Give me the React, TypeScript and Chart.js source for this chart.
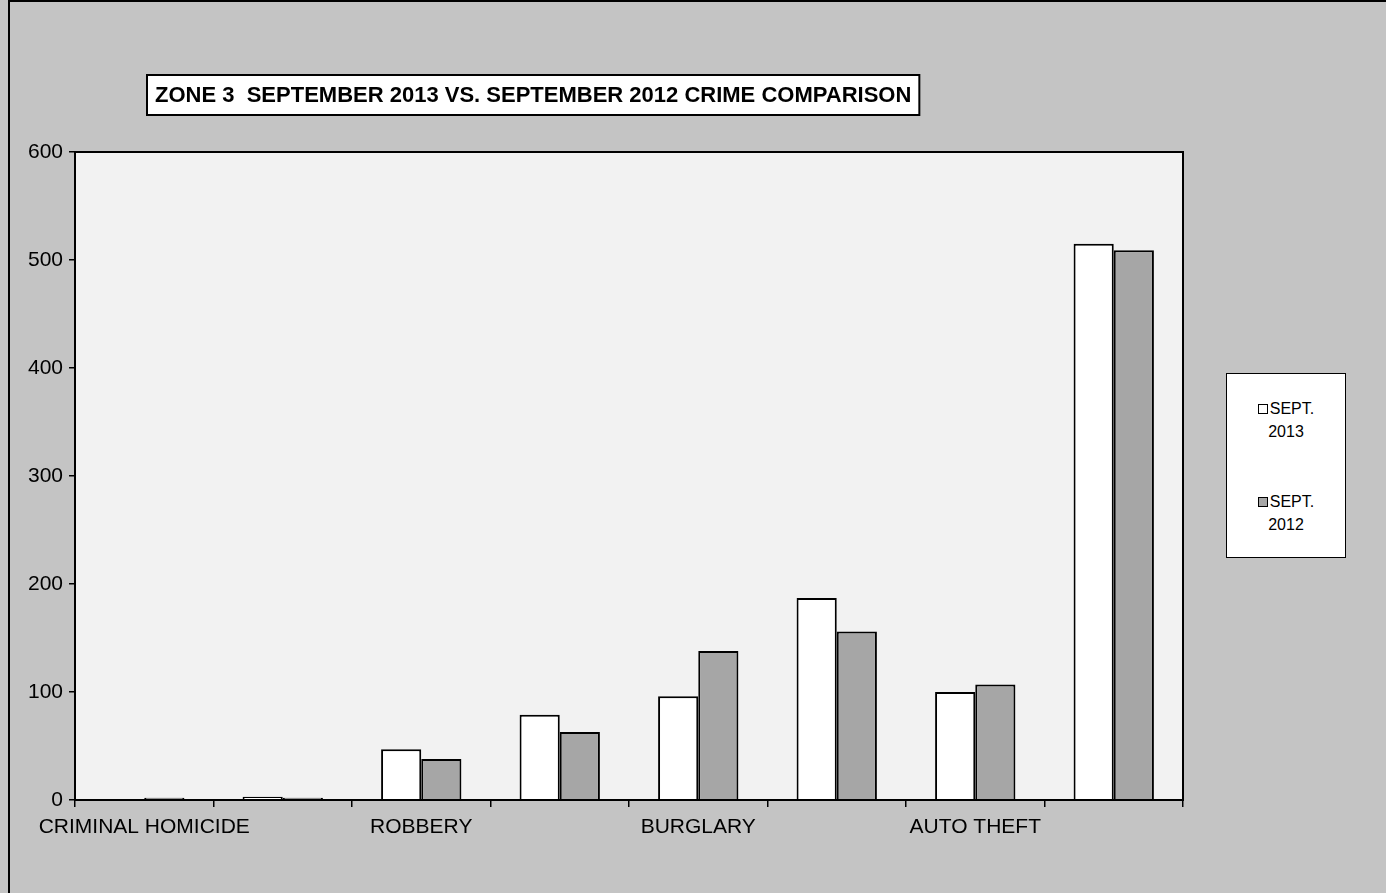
import React, { useEffect, useRef } from "react";
import { Chart, registerables } from "chart.js";

Chart.register(...registerables);

const categories = [
  "CRIMINAL HOMICIDE",
  "FORCIBLE RAPE",
  "ROBBERY",
  "AGGRAVATED ASSAULT",
  "BURGLARY",
  "LARCENY",
  "AUTO THEFT",
  "TOTAL",
];
const tickLabels = ["CRIMINAL HOMICIDE", "", "ROBBERY", "", "BURGLARY", "", "AUTO THEFT", ""];
const sept2013 = [1, 3, 47, 79, 96, 187, 100, 515];
const sept2012 = [2, 2, 38, 63, 138, 156, 107, 509];
const seriesNames = [["SEPT.", "2013"], ["SEPT.", "2012"]];
const title = "ZONE 3  SEPTEMBER 2013 VS. SEPTEMBER 2012 CRIME COMPARISON";
const yMax = 600;
const yStep = 100;

const FONT = "'Liberation Sans', Arial, sans-serif";
const OUTER_BG = "#c4c4c4";
const PLOT_BG = "#f2f2f2";
const BAR_2012 = "#a6a6a6";

const framePlugin = {
  id: "frame",
  beforeDraw(chart: any) {
    const { ctx, chartArea: a } = chart;
    ctx.save();
    ctx.fillStyle = PLOT_BG;
    ctx.fillRect(a.left, a.top, a.right - a.left, a.bottom - a.top);
    ctx.restore();
  },
  afterDraw(chart: any) {
    const { ctx, chartArea: a } = chart;
    ctx.save();
    ctx.strokeStyle = "#000";
    ctx.lineWidth = 2;
    ctx.strokeRect(a.left, a.top, a.right - a.left, a.bottom - a.top);
    // title box
    ctx.font = `bold 22px ${FONT}`;
    const w = ctx.measureText(title).width;
    const bx = 147, by = 75, bh = 40;
    ctx.fillStyle = "#fff";
    ctx.fillRect(bx, by, w + 16, bh);
    ctx.strokeRect(bx, by, w + 16, bh);
    ctx.fillStyle = "#000";
    ctx.textBaseline = "middle";
    ctx.textAlign = "left";
    ctx.fillText(title, bx + 8, by + bh / 2 + 1);
    ctx.restore();
  },
};

export default function App() {
  const ref = useRef<HTMLCanvasElement | null>(null);
  useEffect(() => {
    document.body.style.margin = "0";
    const chart = new Chart(ref.current!, {
      type: "bar",
      data: {
        labels: categories,
        datasets: [
          {
            label: seriesNames[0].join(" "),
            data: sept2013,
            backgroundColor: "#ffffff",
            borderColor: "#000",
            borderWidth: 2,
            categoryPercentage: 0.58,
            barPercentage: 1.0,
          },
          {
            label: seriesNames[1].join(" "),
            data: sept2012,
            backgroundColor: BAR_2012,
            borderColor: "#000",
            borderWidth: 2,
            categoryPercentage: 0.58,
            barPercentage: 1.0,
          },
        ],
      },
      options: {
        animation: false,
        responsive: false,
        layout: { padding: { left: 0, right: 203, top: 152, bottom: 0 } },
        plugins: { legend: { display: false }, tooltip: { enabled: false }, title: { display: false } },
        scales: {
          x: {
            offset: true,
            grid: {
              offset: true,
              drawOnChartArea: false,
              tickLength: 7,
              color: "#000",
              lineWidth: 1.5,
            },
            border: { display: true, color: "#000", width: 2 },
            ticks: {
              autoSkip: false,
              maxRotation: 0,
              color: "#000",
              padding: 8,
              font: { family: FONT, size: 21 },
              callback: (_v: any, i: number) => tickLabels[i],
            },
            afterFit: (s: any) => {
              s.height = 93;
            },
          },
          y: {
            min: 0,
            max: yMax,
            grid: { drawOnChartArea: false, tickLength: 6, color: "#000", lineWidth: 1.5 },
            border: { display: true, color: "#000", width: 2 },
            ticks: {
              stepSize: yStep,
              color: "#000",
              padding: 6,
              font: { family: FONT, size: 21 },
            },
            afterFit: (s: any) => {
              s.width = 75;
            },
          },
        },
      },
      plugins: [framePlugin],
    });
    return () => chart.destroy();
  }, []);

  const legendItem = (lines: string[], color: string, top: number) => (
    <div style={{ position: "absolute", left: 0, right: 0, top, textAlign: "center", lineHeight: "23px" }}>
      <div>
        <span
          style={{
            display: "inline-block",
            width: 8,
            height: 8,
            border: "1.5px solid #000",
            background: color,
            marginRight: 2,
            verticalAlign: "0px",
          }}
        />
        {lines[0]}
      </div>
      <div>{lines[1]}</div>
    </div>
  );

  return (
    <div style={{ position: "fixed", left: 0, top: 0, width: 1386, height: 893, background: OUTER_BG, overflow: "hidden" }}>
      <div style={{ position: "absolute", left: 8, top: 0, width: 1400, height: 900, borderLeft: "2px solid #000", borderTop: "2px solid #000" }} />
      <canvas ref={ref} width={1386} height={893} style={{ position: "absolute", left: 0, top: 0 }} />
      <div
        style={{
          position: "absolute",
          left: 1226,
          top: 373,
          width: 120,
          height: 185,
          background: "#fff",
          border: "1.5px solid #000",
          fontFamily: FONT,
          fontSize: 16,
          color: "#000",
          boxSizing: "border-box",
        }}
      >
        {legendItem(seriesNames[0], "#fff", 23)}
        {legendItem(seriesNames[1], BAR_2012, 116)}
      </div>
    </div>
  );
}
